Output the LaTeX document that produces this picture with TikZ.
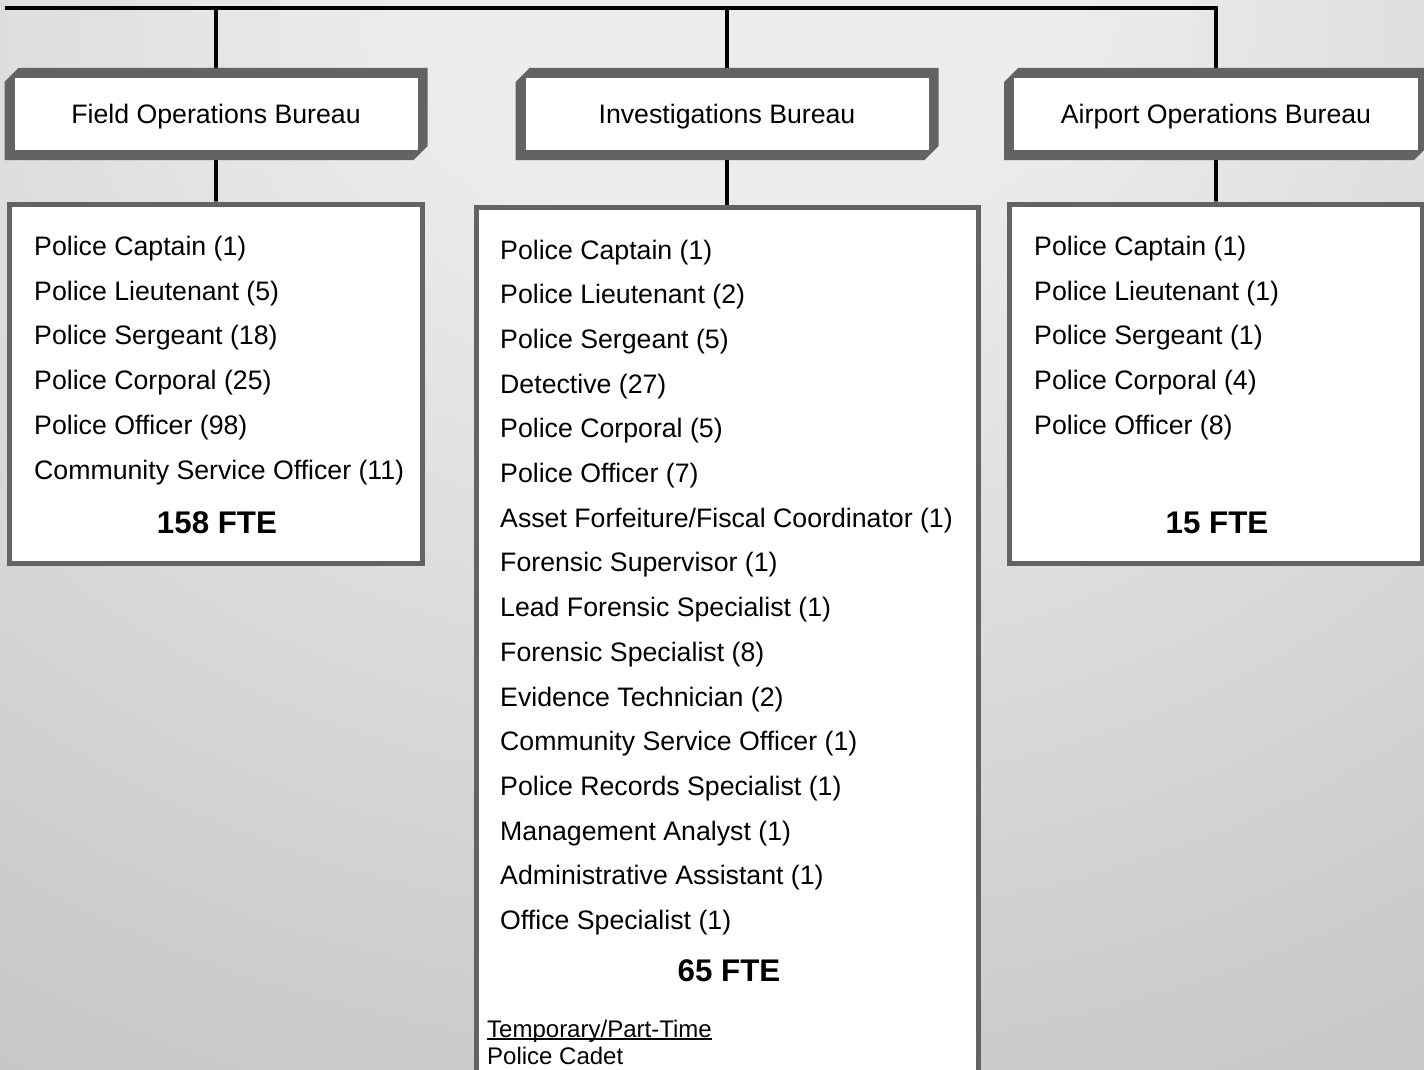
\documentclass[tikz,border=0pt]{standalone}
\usepackage{fontspec}
\setmainfont{Liberation Sans}
\usetikzlibrary{shapes.misc}
\definecolor{edgegray}{RGB}{99,99,99}
\definecolor{bglight}{RGB}{236,236,236}
\definecolor{bgmid}{RGB}{203,203,203}
\definecolor{bgdark}{RGB}{180,180,180}
\pgfdeclareradialshading{bgglow}{\pgfpoint{1bp}{30bp}}{color(0bp)=(bglight); color(12bp)=(bglight); color(43bp)=(bgmid); color(72bp)=(bgdark); color(100bp)=(bgdark)}
\newcommand{\lowline}[1]{\setbox0\hbox{#1}\rlap{\rule[-2.6pt]{\wd0}{1.3pt}}\box0}
\tikzset{
  bureau/.style={chamfered rectangle, chamfered rectangle corners={north west,south east},
    chamfered rectangle xsep=7pt, chamfered rectangle ysep=7pt, fill=edgegray,
    minimum width=423pt, minimum height=92pt, inner sep=0pt, text depth=0pt,
    font=\fontsize{26.7}{30}\selectfont,
    path picture={\fill[white] ([shift={(10pt,-10pt)}]path picture bounding box.north west)
      rectangle ([shift={(-10pt,10pt)}]path picture bounding box.south east);}},
  staff/.style={draw=edgegray, line width=5pt, fill=white, inner sep=0pt},
  roles/.style={anchor=north west, align=left, inner sep=0pt, font=\fontsize{26.7}{44.7}\selectfont},
  total/.style={anchor=base, inner sep=0pt, font=\bfseries\fontsize{31.3}{36}\selectfont},
  wire/.style={line width=3.6pt}
}

\begin{document}
\begin{tikzpicture}[x=1pt, y=-1pt]
\useasboundingbox (0,0) rectangle (1424,1070);
\clip (0,0) rectangle (1424,1070);
\shade[shading=bgglow] (0,0) rectangle (1424,1070);

\node[bureau] (fob) at (216,114) {Field Operations Bureau};
\node[bureau] (ib) at (727,114) {Investigations Bureau};
\node[bureau, minimum width=424pt] (aob) at (1216,114) {Airport Operations Bureau};

\node[staff, minimum width=413pt, minimum height=359.5pt] (fstaff) at (216,383.75) {};
\node[staff, minimum width=502pt, minimum height=890pt] (istaff) at (727,652.5) {};
\node[staff, minimum width=413pt, minimum height=359.5pt] (astaff) at (1216,383.75) {};

\coordinate (root) at (5,8);
\draw[wire] (root) -- (root -| aob) -- (aob);
\draw[wire] (root -| fob) -- (fob);
\draw[wire] (root -| ib) -- (ib);
\draw[wire] (fob) -- (fstaff);
\draw[wire] (ib) -- (istaff);
\draw[wire] (aob) -- (astaff);

\node[roles] (froles) at (34,236) {Police Captain (1)\\Police Lieutenant (5)\\Police Sergeant (18)\\Police Corporal (25)\\Police Officer (98)\\Community Service Officer (11)};
\node[roles] (iroles) at (500,239.5) {Police Captain (1)\\Police Lieutenant (2)\\Police Sergeant (5)\\Detective (27)\\Police Corporal (5)\\Police Officer (7)\\Asset Forfeiture/Fiscal Coordinator (1)\\Forensic Supervisor (1)\\Lead Forensic Specialist (1)\\Forensic Specialist (8)\\Evidence Technician (2)\\Community Service Officer (1)\\Police Records Specialist (1)\\Management Analyst (1)\\Administrative Assistant (1)\\Office Specialist (1)};
\node[roles] (aroles) at (1034,236) {Police Captain (1)\\Police Lieutenant (1)\\Police Sergeant (1)\\Police Corporal (4)\\Police Officer (8)};

\node[total] (ftotal) at (217,533.3) {158 FTE};
\node[total] (itotal) at (729,981.7) {65 FTE};
\node[total] (atotal) at (1217,533.3) {15 FTE};

\node[anchor=north west, align=left, inner sep=0pt, font=\fontsize{24}{27.5}\selectfont] (temp) at (487,1019.5) {\lowline{Temporary/Part-Time}\\Police Cadet};
\end{tikzpicture}
\end{document}
